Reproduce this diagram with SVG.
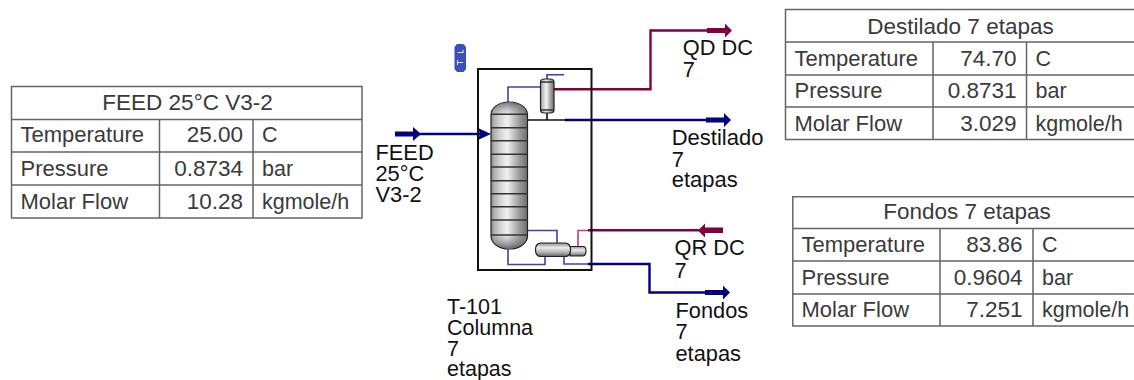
<svg xmlns="http://www.w3.org/2000/svg" width="1134" height="380" viewBox="0 0 1134 380">
<style>
text{font-family:"Liberation Sans",Arial,sans-serif}
.lb{font-size:21.8px;fill:#111}
.t{font-size:22px;fill:#3a3a3a}
.h{font-size:22.5px;fill:#3a3a3a;text-anchor:middle}
.v{font-size:22.5px;fill:#3a3a3a;text-anchor:end}
.un{font-size:21.5px;fill:#3a3a3a}
.g{fill:none;stroke:#666;stroke-width:1.5}
.n{fill:none;stroke:#000080;stroke-width:2.4}
.r{fill:none;stroke:#800040;stroke-width:2.4}
.u{fill:none;stroke:#4040b0;stroke-width:1.6}
.k{fill:none;stroke:#111;stroke-width:1.6}
.tr{stroke:#333;stroke-width:1.5}
.fn{fill:#000080}
.fr{fill:#800040}
</style>
<defs>
<linearGradient id="cyl" x1="0" y1="0" x2="1" y2="0">
<stop offset="0" stop-color="#8c8c8c"/><stop offset=".1" stop-color="#b4b4b4"/><stop offset=".3" stop-color="#dcdcdc"/><stop offset=".45" stop-color="#f0f0f0"/><stop offset=".6" stop-color="#c8c8c8"/><stop offset=".8" stop-color="#969696"/><stop offset="1" stop-color="#6e6e6e"/>
</linearGradient>
<linearGradient id="hcyl" x1="0" y1="0" x2="0" y2="1">
<stop offset="0" stop-color="#8c8c8c"/><stop offset=".35" stop-color="#ececec"/><stop offset=".7" stop-color="#b0b0b0"/><stop offset="1" stop-color="#5e5e5e"/>
</linearGradient>
<linearGradient id="capT" x1="0" y1="0" x2="0" y2="1">
<stop offset="0" stop-color="#555" stop-opacity=".75"/><stop offset="1" stop-color="#999" stop-opacity=".1"/>
</linearGradient>
<linearGradient id="capB" x1="0" y1="0" x2="0" y2="1">
<stop offset="0" stop-color="#999" stop-opacity=".1"/><stop offset="1" stop-color="#444" stop-opacity=".75"/>
</linearGradient>
</defs>

<g id="connectors">
<path class="u" d="M508 102V87H540"/>
<path class="u" d="M547 79V74.700H564"/>
<path class="k" d="M547 113V120M527 120H565"/>
<path class="n" d="M565 120H706"/>
<path class="fn" d="M706 117.500H724V113L731 120L724 127V122.500H706Z"/>
<path class="r" d="M554 89.300H650.500V30.500H708"/>
<path class="fr" d="M707 28H725V23.500L732 30.500L725 37.500V33H707Z"/>
<path class="n" d="M413 134H481"/>
<path class="fn" d="M395 131.500H413V127L421 134L413 141V136.500H395Z"/>
<path class="fn" d="M480 134L478 128L491 134L478 140Z"/>
<path class="u" d="M527 230.500H557V243"/>
<path class="u" d="M508 249V264.500H545V256"/>
<path class="u" d="M564 256V264H589"/>
<path class="u" d="M578 246V230.500H589" style="stroke:#b04080"/>
<path class="r" d="M588 230.300H699"/>
<path class="fr" d="M723 227.500H705V223.500L698 230.500L705 237.500V233H723Z"/>
<path class="n" d="M588 264H649.500V292.500H706"/>
<path class="fn" d="M705 290H723V285.500L730 292.500L723 299.500V295H705Z"/>
</g>

<g id="T-101">
<rect x="478" y="69" width="113.500" height="201" fill="none" stroke="#111" stroke-width="2"/>
<g id="column">
<rect x="491" y="102" width="36.500" height="147" rx="18" ry="13" fill="url(#cyl)" stroke="#222" stroke-width="1.2"/>
<path d="M491.600 114V113Q492 102.600 509 102.600T527 113V114Z" fill="url(#capT)"/>
<path d="M491.600 235V236Q492 248.400 509 248.400T527 236V235Z" fill="url(#capB)"/>
<path class="tr" d="M491 114.300H527.500M491 127.700H527.500M491 140.700H527.500M491 154.300H527.500M491 167H527.500M491 180.700H527.500M491 193.700H527.500M491 206.700H527.500M491 220H527.500M491 235H527.500"/>
</g>
<g id="condenser">
<rect x="540.500" y="79" width="13.500" height="34" rx="4" ry="3" fill="url(#cyl)" stroke="#222" stroke-width="1.2"/>
<path class="tr" d="M541 82H553.500M541 110H553.500" stroke-width="1"/>
</g>
<g id="reboiler">
<path d="M570 246.500H583Q586 246.500 586 251T583 256H570Z" fill="url(#hcyl)" stroke="#222" stroke-width="1.2"/>
<rect x="535.500" y="243" width="35" height="13.500" rx="5" ry="6" fill="url(#hcyl)" stroke="#222" stroke-width="1.2"/>
</g>
<g id="icon">
<path d="M457 44H463.500L466 47V69L463.500 72H457L454.500 69V47Z" fill="#3a50b8"/>
<path d="M457.500 52.500H463V50M457.500 62.500H463M457.500 60V65" fill="none" stroke="#e4e8f8" stroke-width="1.1"/>
</g>
</g>

<g id="labels">
<text class="lb" x="375.500" y="160">FEED<tspan x="375.500" y="181">25°C</tspan><tspan x="375.500" y="201.700">V3-2</tspan></text>
<text class="lb" x="682.700" y="55">QD DC<tspan x="682.700" y="76.700">7</tspan></text>
<text class="lb" x="671.700" y="144.500" style="font-size:22px">Destilado<tspan x="671.700" y="166.500">7</tspan><tspan x="671.700" y="186.700">etapas</tspan></text>
<text class="lb" x="674.500" y="255">QR DC<tspan x="674.500" y="277.500">7</tspan></text>
<text class="lb" x="675.500" y="317.500">Fondos<tspan x="675.500" y="339">7</tspan><tspan x="675.500" y="360.700">etapas</tspan></text>
<text class="lb" x="447" y="314" style="font-size:21.500px">T-101<tspan x="447" y="334.500">Columna</tspan><tspan x="447" y="355.700">7</tspan><tspan x="447" y="375.700">etapas</tspan></text>
</g>

<g id="table-feed">
<path class="g" d="M11.500 86.500H362V218H11.500ZM11.500 119.500H362M11.500 152H362M11.500 185H362M159.500 119.500V218M253 119.500V218"/>
<text class="h" x="187.500" y="110">FEED 25°C V3-2</text>
<text class="t" x="20.500" y="142.300">Temperature</text><text class="v" x="243" y="142.300">25.00</text><text class="un" x="262" y="142.300">C</text>
<text class="t" x="20.500" y="175.700">Pressure</text><text class="v" x="243" y="175.700">0.8734</text><text class="un" x="262" y="175.700">bar</text>
<text class="t" x="20.500" y="209">Molar Flow</text><text class="v" x="243" y="209">10.28</text><text class="un" x="262" y="209">kgmole/h</text>
</g>

<g id="table-destilado">
<path class="g" d="M1140 9.500H785.500V139.500H1140M785.500 42H1140M785.500 75H1140M785.500 107H1140M933 42V139.500M1026.500 42V139.500"/>
<text class="h" x="960.500" y="34">Destilado 7 etapas</text>
<text class="t" x="794.500" y="65.700">Temperature</text><text class="v" x="1016.500" y="65.700">74.70</text><text class="un" x="1035.500" y="65.700">C</text>
<text class="t" x="794.500" y="98.300">Pressure</text><text class="v" x="1016.500" y="98.300">0.8731</text><text class="un" x="1035.500" y="98.300">bar</text>
<text class="t" x="794.500" y="131">Molar Flow</text><text class="v" x="1016.500" y="131">3.029</text><text class="un" x="1035.500" y="131">kgmole/h</text>
</g>

<g id="table-fondos">
<path class="g" d="M1140 196.800H792.800V326H1140M792.800 228.500H1140M792.800 261H1140M792.800 294H1140M940 228.500V326M1033 228.500V326"/>
<text class="h" x="967" y="219.300">Fondos 7 etapas</text>
<text class="t" x="801.500" y="252.300">Temperature</text><text class="v" x="1022.500" y="252.300">83.86</text><text class="un" x="1042" y="252.300">C</text>
<text class="t" x="801.500" y="285">Pressure</text><text class="v" x="1022.500" y="285">0.9604</text><text class="un" x="1042" y="285">bar</text>
<text class="t" x="801.500" y="317.300">Molar Flow</text><text class="v" x="1022.500" y="317.300">7.251</text><text class="un" x="1042" y="317.300">kgmole/h</text>
</g>
</svg>
